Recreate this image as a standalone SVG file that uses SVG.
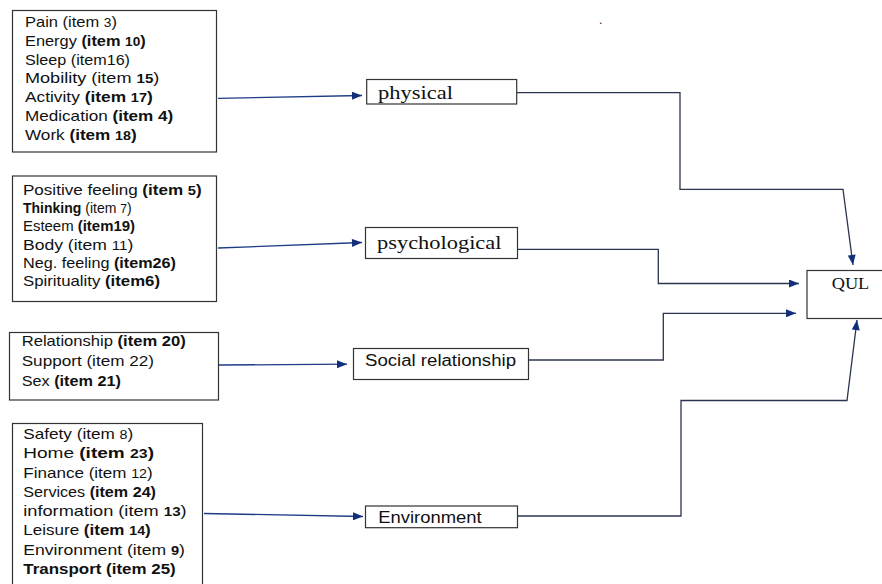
<svg xmlns="http://www.w3.org/2000/svg" width="882" height="584" viewBox="0 0 882 584">
<style>
.box{fill:#fff;stroke:#333;stroke-width:1.2}
.it{font-family:"Liberation Sans",Arial,sans-serif;font-size:15px;fill:#111}
.it2{font-size:14.5px}
.b{font-weight:bold}
.s{font-size:12.5px}
.ser{font-family:"Liberation Serif","Times New Roman",serif;fill:#111}
.san{font-family:"Liberation Sans",Arial,sans-serif;fill:#111}
.la{fill:none;stroke:#1d3c84;stroke-width:1.3}
.ra{fill:none;stroke:#2c3550;stroke-width:1.3}
</style>
<defs>
<marker id="ah" viewBox="0 0 10 8" refX="10" refY="4" markerWidth="11" markerHeight="8" markerUnits="userSpaceOnUse" orient="auto"><path d="M0,0 L10,4 L0,8 z" fill="#12307a"/></marker>
</defs>
<rect width="882" height="584" fill="#fff"/>
<text x="599" y="24" class="san" font-size="12">.</text>

<g id="physical-items">
<rect class="box" x="12.5" y="10.5" width="204" height="141.5"/>
<text class="it" x="25" y="26.7" textLength="92" lengthAdjust="spacingAndGlyphs">Pain (item <tspan class="s">3</tspan>)</text>
<text class="it" x="25" y="45.6" textLength="120.7" lengthAdjust="spacingAndGlyphs">Energy <tspan class="b">(item <tspan class="s">10</tspan>)</tspan></text>
<text class="it" x="25" y="64.5" textLength="105" lengthAdjust="spacingAndGlyphs">Sleep (item16)</text>
<text class="it" x="25" y="83.4" textLength="134.3" lengthAdjust="spacingAndGlyphs">Mobility (item <tspan class="s b">15</tspan>)</text>
<text class="it" x="25" y="102.3" textLength="127.7" lengthAdjust="spacingAndGlyphs">Activity <tspan class="b">(item <tspan class="s">17</tspan>)</tspan></text>
<text class="it" x="25" y="121.2" textLength="148.3" lengthAdjust="spacingAndGlyphs">Medication <tspan class="b">(item 4)</tspan></text>
<text class="it" x="25" y="140" textLength="111.7" lengthAdjust="spacingAndGlyphs">Work <tspan class="b">(item <tspan class="s">18</tspan>)</tspan></text>
</g>

<g id="psychological-items">
<rect class="box" x="12.5" y="176" width="204" height="125.5"/>
<text class="it it2" x="23" y="195" textLength="178.7" lengthAdjust="spacingAndGlyphs">Positive feeling <tspan class="b">(item <tspan class="s">5</tspan>)</tspan></text>
<text class="it it2" x="23" y="213.2" textLength="108.7" lengthAdjust="spacingAndGlyphs"><tspan class="b">Thinking</tspan> (item <tspan class="s">7</tspan>)</text>
<text class="it it2" x="23" y="231.4" textLength="112" lengthAdjust="spacingAndGlyphs">Esteem <tspan class="b">(item19)</tspan></text>
<text class="it it2" x="23" y="249.6" textLength="110.3" lengthAdjust="spacingAndGlyphs">Body (item <tspan class="s">11</tspan>)</text>
<text class="it it2" x="23" y="267.8" textLength="153" lengthAdjust="spacingAndGlyphs">Neg. feeling <tspan class="b">(item26)</tspan></text>
<text class="it it2" x="23" y="286" textLength="137" lengthAdjust="spacingAndGlyphs">Spirituality <tspan class="b">(item6)</tspan></text>
</g>

<g id="social-items">
<rect class="box" x="9.5" y="332.5" width="209" height="67.5"/>
<text class="it" x="21.7" y="346" textLength="164" lengthAdjust="spacingAndGlyphs">Relationship <tspan class="b">(item 20)</tspan></text>
<text class="it" x="21.7" y="366" textLength="132.3" lengthAdjust="spacingAndGlyphs">Support (item 22)</text>
<text class="it" x="21.7" y="386" textLength="99.3" lengthAdjust="spacingAndGlyphs">Sex <tspan class="b">(item 21)</tspan></text>
</g>

<g id="environment-items">
<rect class="box" x="12.5" y="423.5" width="190" height="170"/>
<text class="it" x="23.3" y="439" textLength="110" lengthAdjust="spacingAndGlyphs">Safety (item <tspan class="s">8</tspan>)</text>
<text class="it" x="23.3" y="458.3" textLength="130.7" lengthAdjust="spacingAndGlyphs">Home <tspan class="b">(item <tspan class="s">23</tspan>)</tspan></text>
<text class="it" x="23.3" y="477.6" textLength="129.4" lengthAdjust="spacingAndGlyphs">Finance (item <tspan class="s">12</tspan>)</text>
<text class="it" x="23.3" y="496.9" textLength="132.7" lengthAdjust="spacingAndGlyphs">Services <tspan class="b">(item 24)</tspan></text>
<text class="it" x="23.3" y="516.1" textLength="163.4" lengthAdjust="spacingAndGlyphs">information (item <tspan class="s b">13</tspan>)</text>
<text class="it" x="23.3" y="535.4" textLength="127.4" lengthAdjust="spacingAndGlyphs">Leisure <tspan class="b">(item <tspan class="s">14</tspan>)</tspan></text>
<text class="it" x="23.3" y="554.7" textLength="161.7" lengthAdjust="spacingAndGlyphs">Environment (item <tspan class="s b">9</tspan>)</text>
<text class="it b" x="23.3" y="574" textLength="152.4" lengthAdjust="spacingAndGlyphs">Transport (item 25)</text>
</g>

<g id="physical">
<rect class="box" x="366.7" y="79.5" width="150" height="24.5"/>
<text class="ser" x="378" y="99" font-size="19" textLength="75" lengthAdjust="spacingAndGlyphs">physical</text>
</g>
<g id="psychological">
<rect class="box" x="365.5" y="227.5" width="152" height="31"/>
<text class="ser" x="377" y="249" font-size="19" textLength="124.5" lengthAdjust="spacingAndGlyphs">psychological</text>
</g>
<g id="social">
<rect class="box" x="353.5" y="348.5" width="175" height="31"/>
<text class="san" x="365" y="365.5" font-size="16" textLength="151" lengthAdjust="spacingAndGlyphs">Social relationship</text>
</g>
<g id="environment">
<rect class="box" x="365.5" y="506" width="152" height="21.7"/>
<text class="san" x="378.3" y="523" font-size="16" textLength="103.4" lengthAdjust="spacingAndGlyphs">Environment</text>
</g>
<g id="qul">
<rect class="box" x="807" y="270.5" width="85" height="48"/>
<text class="ser" x="831.7" y="288.5" font-size="16" textLength="37.6" lengthAdjust="spacingAndGlyphs">QUL</text>
</g>

<g id="connectors">
<path class="la" d="M218,98.3 L362,95.5" marker-end="url(#ah)"/>
<path class="la" d="M218,248 L362,242.5" marker-end="url(#ah)"/>
<path class="la" d="M219,365 L347,364.2" marker-end="url(#ah)"/>
<path class="la" d="M204,513.5 L363,516.5" marker-end="url(#ah)"/>
<path class="ra" d="M517,92.7 L680,92.7 L680,189.3 L843,189.3 L853,265" marker-end="url(#ah)"/>
<path class="ra" d="M518,249.3 L658.3,249.3 L658.3,283.5 L799,283.5" marker-end="url(#ah)"/>
<path class="ra" d="M529,360 L663.3,360 L663.3,313.3 L796,313.3" marker-end="url(#ah)"/>
<path class="ra" d="M518,516 L681,516 L681,400.5 L847,400.5 L857,320" marker-end="url(#ah)"/>
</g>
</svg>
